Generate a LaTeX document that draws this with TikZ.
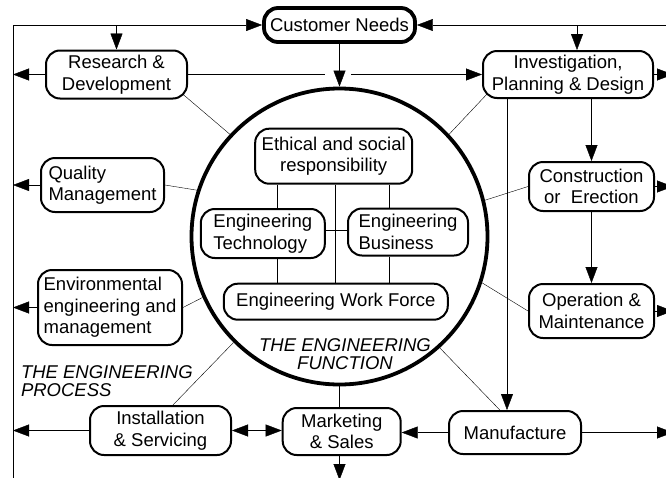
\documentclass[tikz,border=0pt]{standalone}
\usepackage{fontspec}
\setmainfont{Liberation Sans}
\usetikzlibrary{arrows.meta,backgrounds}
\newcommand{\dlabelfont}{\fontsize{18.5}{21.5}\selectfont}
\newcommand{\ditalfont}{\fontsize{18.5}{17.5}\selectfont\itshape}
\begin{document}
\begin{tikzpicture}[x=1pt,y=-1pt,line width=2pt,
  >={Triangle[length=16pt,width=12pt]},
  rbox/.style={draw,fill=white,rounded corners=14pt,align=center,inner sep=0pt,font=\dlabelfont},
  lbox/.style={rbox,align=left},
  thickbox/.style={rbox,line width=3.8pt},
  ital/.style={font=\ditalfont,inner sep=0pt}]
\useasboundingbox (0,0) rectangle (666,477);

% outer process boxes
\node[thickbox,minimum width=151pt,minimum height=34pt] (cn) at (339.5,25) {Customer Needs};
\node[rbox,minimum width=141pt,minimum height=48pt] (rd) at (116.5,74.5) {Research \&\\Development};
\node[lbox,minimum width=123pt,minimum height=54pt] (q) at (102.5,185) {Quality\\Management};
\node[lbox,minimum width=144pt,minimum height=75pt] (env) at (110,307.5) {Environmental\\engineering and\\management};
\node[rbox,minimum width=141pt,minimum height=49pt] (inst) at (160.5,430.5) {Installation\\\& Servicing};
\node[rbox,minimum width=118pt,minimum height=47pt] (mk) at (341.7,431.5) {Marketing\\\& Sales};
\node[rbox,minimum width=132pt,minimum height=43pt] (mf) at (515,432.5) {Manufacture};
\node[rbox,minimum width=125pt,minimum height=54pt] (op) at (591.5,311) {Operation \&\\Maintenance};
\node[rbox,minimum width=125pt,minimum height=49pt] (con) at (591.5,186.5) {Construction\\or\ \ Erection};
\node[rbox,minimum width=170pt,minimum height=47pt] (inv) at (568,74.5) {Investigation,\\Planning \& Design};

% engineering function
\node[draw,circle,line width=3.8pt,minimum size=296pt,inner sep=0pt] (circ) at (339.5,236.5) {};
\node[rbox,minimum width=157pt,minimum height=55pt] (eth) at (333.7,156.2) {Ethical and social\\responsibility};
\node[lbox,minimum width=124pt,minimum height=49pt] (tech) at (262.8,233.5) {Engineering\\Technology};
\node[lbox,minimum width=120pt,minimum height=47pt] (bus) at (408,232) {Engineering\\Business};
\node[rbox,minimum width=224pt,minimum height=36pt] (wf) at (335.8,301.7) {Engineering Work Force};
\node[ital,align=center] (fn) at (345,354) {THE ENGINEERING\\FUNCTION};
\node[ital,align=left,anchor=west] (pr) at (20,381) {THE ENGINEERING\\PROCESS};

% helper coordinates
\coordinate (tl) at (13,25);
\coordinate (tr) at (673,25);
\coordinate (bl) at (13,480);
\coordinate (bm) at (339.5,480);
\coordinate (gl) at (325,74.5);
\coordinate (gr) at (351,74.5);
\coordinate (xa) at (277.3,0);
\coordinate (xb) at (389.3,0);
\coordinate (xc) at (335,0);
\coordinate (xi) at (577,0);
\coordinate (xm) at (507,0);
\coordinate (yh) at (0,230);

\begin{pgfonlayer}{background}
% frame and top
\draw (bl) -- (tl);
\draw[->] (tl) -- (cn.west);
\draw[->] (tr) -- (cn.east);
\draw[->] (tl -| rd.north) -- (rd.north);
\draw[->] (tr -| xi) -- (inv.north -| xi);
\draw[->] (cn.south) -- (circ.north);
\draw (rd.east) -- (gl);
\draw[->] (gr) -- (inv.west);
% left outputs
\draw[->] (rd.west) -- (rd.west -| tl);
\draw[->] (q.west) -- (q.west -| tl);
\draw[->] (env.west) -- (env.west -| tl);
\draw[->] (inst.west) -- (inst.west -| tl);
% bottom
\draw[<->] (inst.east) -- (inst.east -| mk.west);
\draw[->] (mf.west) -- (mf.west -| mk.east);
\draw[->] (mf.east) -- (mf.east -| tr);
\draw[->] (mk.south -| circ.south) -- (bm);
\draw (circ.south) -- (circ.south |- mk.north);
% right
\draw[->] (inv.east) -- (inv.east -| tr);
\draw[->] (con.east) -- (con.east -| tr);
\draw[->] (op.east) -- (op.east -| tr);
\draw[->] (inv.south -| con.north) -- (con.north);
\draw[->] (con.south) -- (op.north);
\draw[->] (inv.south -| xm) -- (mf.north -| xm);
% spokes
\draw ([shift={(-6,-6)}]rd.south east) -- (circ.137);
\draw (q.east) -- (circ.162);
\draw (env.east) -- (circ.204);
\draw (inst.64) -- (circ.225);
\draw (mf.124) -- (circ.-48);
\draw (op.west) -- (circ.-18);
\draw (con.west) -- (circ.14);
\draw ([shift={(6,-6)}]inv.south west) -- (circ.43);
% inside the function
\draw (eth.south -| xa) -- (tech.north -| xa);
\draw (eth.south -| xb) -- (bus.north -| xb);
\draw (eth.south -| xc) -- (wf.north -| xc);
\draw (tech.east |- yh) -- (bus.west |- yh);
\draw (tech.south -| xa) -- (wf.north -| xa);
\draw (bus.south -| xb) -- (wf.north -| xb);
\end{pgfonlayer}
\end{tikzpicture}
\end{document}
